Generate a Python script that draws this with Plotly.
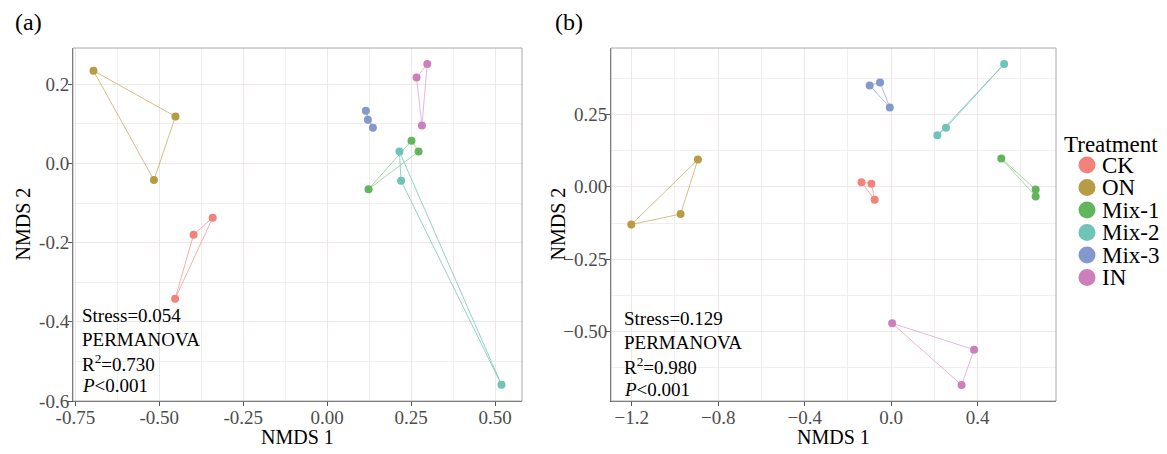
import plotly.graph_objects as go

# page body has an 8px margin; the figure is sized and positioned to compensate
OX, OY = 8, 8
W, H = 1167 - OX, 454 - OY

treatments = ["CK", "ON", "Mix-1", "Mix-2", "Mix-3", "IN"]
colors = ["#F2827B", "#B89C45", "#63B55C", "#6FC3B7", "#8398CD", "#CC7FBB"]
line_colors = ["rgba(242,130,123,0.65)", "rgba(184,156,69,0.65)", "rgba(99,181,92,0.55)",
               "rgba(111,195,183,0.75)", "rgba(131,152,205,0.65)", "rgba(204,127,187,0.55)"]

# Panel (a) NMDS coordinates
a_x = [[-0.341, -0.398, -0.453], [-0.696, -0.452, -0.516], [0.251, 0.272, 0.123],
       [0.215, 0.220, 0.519], [0.115, 0.121, 0.136], [0.298, 0.266, 0.282]]
a_y = [[-0.137, -0.180, -0.342], [0.234, 0.1185, -0.042], [0.057, 0.030, -0.065],
       [0.030, -0.044, -0.559], [0.133, 0.110, 0.090], [0.251, 0.217, 0.096]]

# Panel (b) NMDS coordinates
b_x = [[-0.137, -0.091, -0.076], [-1.202, -0.974, -0.894], [0.510, 0.669, 0.669],
       [0.523, 0.254, 0.214], [-0.099, -0.051, -0.006], [0.005, 0.384, 0.326]]
b_y = [[0.016, 0.011, -0.045], [-0.130, -0.094, 0.094], [0.098, -0.009, -0.033],
       [0.424, 0.204, 0.178], [0.350, 0.360, 0.274], [-0.471, -0.562, -0.684]]

a_stats = ["Stress=0.054", "PERMANOVA", "R<sup>2</sup>=0.730", "<i>P</i>&lt;0.001"]
b_stats = ["Stress=0.129", "PERMANOVA", "R<sup>2</sup>=0.980", "<i>P</i>&lt;0.001"]

a_xticks = [-0.75, -0.5, -0.25, 0.0, 0.25, 0.5]
a_xtext = ["-0.75", "-0.50", "-0.25", "0.00", "0.25", "0.50"]
a_yticks = [-0.6, -0.4, -0.2, 0.0, 0.2]
a_ytext = ["-0.6", "-0.4", "-0.2", "0.0", "0.2"]
b_xticks = [-1.2, -0.8, -0.4, 0.0, 0.4]
b_xtext = ["\u22121.2", "\u22120.8", "\u22120.4", "0.0", "0.4"]
b_yticks = [-0.5, -0.25, 0.0, 0.25]
b_ytext = ["\u22120.50", "\u22120.25", "0.00", "0.25"]

FONT = "Liberation Serif"

def px(x):
    return (x - OX) / W

def py(y):
    return 1 - (y - OY) / H

fig = go.Figure()

for panel, (xs, ys, xa, ya) in enumerate([(a_x, a_y, "x", "y"), (b_x, b_y, "x2", "y2")]):
    for i, t in enumerate(treatments):
        hx = xs[i] + [xs[i][0]]
        hy = ys[i] + [ys[i][0]]
        fig.add_trace(go.Scatter(x=hx, y=hy, mode="lines", xaxis=xa, yaxis=ya,
                                 line=dict(color=line_colors[i], width=1),
                                 showlegend=False, hoverinfo="skip"))
    for i, t in enumerate(treatments):
        fig.add_trace(go.Scatter(x=xs[i], y=ys[i], mode="markers", xaxis=xa, yaxis=ya,
                                 name=t, marker=dict(color=colors[i], size=8),
                                 showlegend=False))

grid = "#EEE7E7"
tickfont = dict(family=FONT, size=19, color="#4D4D4D")

def axis(domain, rng, tv, tt, minor_dtick, minor_tick0, anchor, standoff):
    return dict(domain=domain, range=rng, tickvals=tv, ticktext=tt, tickfont=tickfont,
                showgrid=True, gridcolor=grid, gridwidth=1, zeroline=False,
                showline=True, linecolor="#555555", linewidth=1,
                ticks="outside", ticklen=4, tickcolor="#555555", anchor=anchor,
                automargin=False, ticklabelstandoff=standoff,
                minor=dict(showgrid=True, gridcolor="#F3EEEE", gridwidth=0.7,
                           dtick=minor_dtick, tick0=minor_tick0, ticks=""))

ydom = [py(401), py(48)]
fig.update_layout(
    width=W, height=H, margin=dict(l=0, r=0, t=0, b=0),
    paper_bgcolor="white", plot_bgcolor="white", showlegend=False,
    xaxis=axis([px(73), px(522)], [-0.757, 0.580], a_xticks, a_xtext, 0.125, 0.125, "y", -5),
    yaxis=axis(ydom, [-0.600, 0.2915], a_yticks, a_ytext, 0.1, 0.1, "x", -5),
    xaxis2=axis([px(611), px(1056)], [-1.296, 0.763], b_xticks, b_xtext, 0.2, 0.2, "y2", -5),
    yaxis2=axis(ydom, [-0.739, 0.479], b_yticks, b_ytext, 0.125, 0.125, "x2", -5),
)

shapes = []
for xr, yr in [("x domain", "y domain"), ("x2 domain", "y2 domain")]:
    shapes.append(dict(type="rect", xref=xr, yref=yr, x0=0, x1=1, y0=0, y1=1,
                       line=dict(color="#A8A8A8", width=1), layer="above"))

annotations = []
# panel labels
annotations.append(dict(text="(a)", x=px(13), y=py(22), xref="paper", yref="paper",
                        xanchor="left", yanchor="middle", showarrow=False,
                        font=dict(family=FONT, size=24, color="black")))
annotations.append(dict(text="(b)", x=px(553), y=py(22), xref="paper", yref="paper",
                        xanchor="left", yanchor="middle", showarrow=False,
                        font=dict(family=FONT, size=24, color="black")))
# axis titles
for cx, cy in [(297.5, 437), (833.5, 437)]:
    annotations.append(dict(text="NMDS 1", x=px(cx), y=py(cy), xref="paper", yref="paper",
                            xanchor="center", yanchor="middle", showarrow=False,
                            font=dict(family=FONT, size=20, color="black")))
for cx, cy in [(22, 224.5), (557, 224.5)]:
    annotations.append(dict(text="NMDS 2", x=px(cx), y=py(cy), xref="paper", yref="paper",
                            xanchor="center", yanchor="middle", showarrow=False, textangle=-90,
                            font=dict(family=FONT, size=20, color="black")))
# stats text
for lx, ys_, lines in [(80, [315, 339, 362.5, 385.5], a_stats), (621.5, [318.5, 342, 366, 389], b_stats)]:
    for yy, s in zip(ys_, lines):
        annotations.append(dict(text=s, x=px(lx), y=py(yy), xref="paper", yref="paper",
                                xanchor="left", yanchor="middle", showarrow=False,
                                font=dict(family=FONT, size=19, color="black")))

# legend (manual)
annotations.append(dict(text="Treatment", x=px(1062), y=py(144), xref="paper", yref="paper",
                        xanchor="left", yanchor="middle", showarrow=False,
                        font=dict(family=FONT, size=23, color="black")))
leg_y = [165, 187.5, 210, 232.5, 255, 277.5]
r = 8.5
for i, t in enumerate(treatments):
    cy = leg_y[i]
    shapes.append(dict(type="circle", xref="paper", yref="paper",
                       x0=px(1087 - r), x1=px(1087 + r), y0=py(cy + r), y1=py(cy - r),
                       fillcolor=colors[i], line=dict(width=0)))
    annotations.append(dict(text=t, x=px(1100), y=py(cy), xref="paper", yref="paper",
                            xanchor="left", yanchor="middle", showarrow=False,
                            font=dict(family=FONT, size=23, color="black")))

fig.update_layout(shapes=shapes, annotations=annotations)
fig.write_html("out.html")
